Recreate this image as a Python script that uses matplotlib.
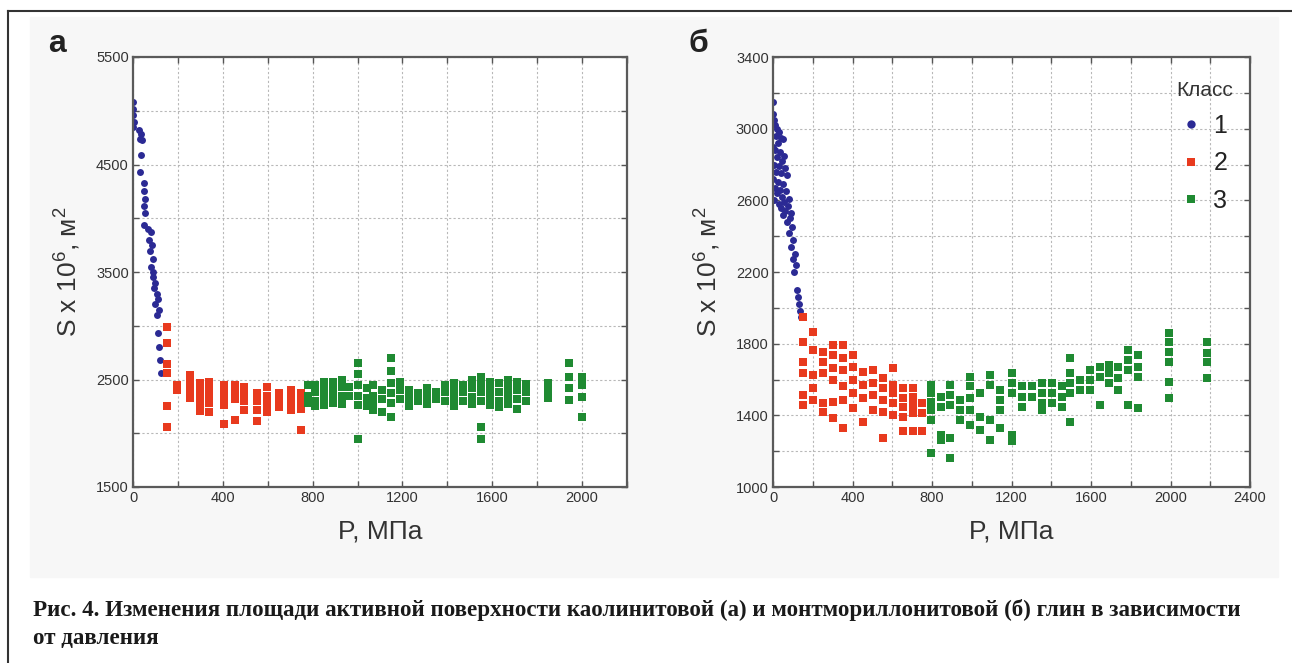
import matplotlib.pyplot as plt
from matplotlib.ticker import MultipleLocator
from matplotlib.lines import Line2D
from matplotlib.patches import Rectangle

# --- panel a (kaolinite) ---
a1_p = [0, 0, 2, 3, 0, 25, 35, 30, 40, 36, 31, 48, 50, 52, 50, 55, 50, 65, 80,
        70, 85, 75, 90, 80, 88, 90, 100, 95, 105, 110, 100, 115, 108,
        112, 118, 120, 125]
a1_s = [5080, 5020, 4960, 4900, 4850, 4820, 4780, 4740, 4730, 4590, 4430,
        4330, 4250, 4180, 4110, 4050, 3940, 3900, 3870,
        3800, 3750, 3700, 3620, 3550, 3500, 3450, 3400, 3350, 3300, 3250,
        3200, 3150, 3100, 2930, 2800, 2680, 2560]

a2_cols = [150, 197, 255, 300, 337, 404, 456, 496, 553, 596, 648, 702, 746]
a2_vals = [[2990, 2840, 2640, 2560, 2250, 2060],
           [2450, 2400],
           [2540, 2480, 2420, 2360, 2330],
           [2470, 2400, 2330, 2260, 2210],
           [2480, 2420, 2350, 2280, 2200],
           [2450, 2390, 2320, 2260, 2090],
           [2450, 2380, 2320, 2125],
           [2430, 2360, 2300, 2220],
           [2370, 2300, 2220, 2110],
           [2430, 2350, 2270, 2200],
           [2370, 2300, 2240],
           [2400, 2330, 2260, 2220],
           [2370, 2300, 2230, 2030]]

a3_cols = [780, 810, 850, 890, 930, 960, 1000, 1040, 1070, 1110, 1150, 1190,
           1230, 1270, 1310, 1350, 1390, 1430, 1470, 1510, 1550, 1590, 1630,
           1670, 1710, 1750, 1850, 1940, 2000]
a3_vals = [[2450, 2350, 2280],
           [2450, 2380, 2300, 2250],
           [2480, 2400, 2330, 2260],
           [2480, 2420, 2350, 2280],
           [2500, 2430, 2350, 2270],
           [2430, 2350],
           [2650, 2550, 2450, 2350, 2260, 1950],
           [2420, 2330, 2250],
           [2450, 2350, 2280, 2220],
           [2400, 2320, 2200],
           [2700, 2580, 2470, 2370, 2280, 2150],
           [2480, 2400, 2320],
           [2400, 2330, 2250],
           [2370, 2300],
           [2420, 2350, 2270],
           [2380, 2320],
           [2450, 2380, 2300],
           [2470, 2400, 2330, 2250],
           [2450, 2380, 2300],
           [2500, 2420, 2340, 2270],
           [2520, 2450, 2380, 2300, 2060, 1950],
           [2480, 2400, 2330, 2260],
           [2470, 2380, 2300, 2240],
           [2500, 2420, 2350, 2270],
           [2480, 2400, 2320, 2230],
           [2460, 2380, 2300],
           [2470, 2400, 2330],
           [2650, 2520, 2420, 2310],
           [2520, 2450, 2340, 2150]]

# --- panel b (montmorillonite) ---
b1_p = [0, 0, 5, 10, 20, 30, 15, 40, 50, 25, 0, 10, 35, 55, 20, 45, 5, 30,
        60, 15, 40, 70, 0, 25, 50, 10, 35, 65, 20, 45, 80, 5, 55, 30, 75, 40,
        60, 90, 50, 85, 70, 95, 80, 100, 90, 110, 100, 115, 105, 120, 125,
        130, 135, 140]
b1_s = [3150, 3080, 3050, 3020, 3000, 2980, 2960, 2950, 2940, 2920, 2900,
        2880, 2870, 2850, 2840, 2820, 2800, 2790, 2780, 2760, 2750, 2740,
        2720, 2700, 2690, 2670, 2660, 2650, 2640, 2620, 2610, 2600, 2590,
        2580, 2570, 2560, 2540, 2530, 2520, 2500, 2480, 2450, 2420, 2380,
        2340, 2300, 2270, 2240, 2200, 2100, 2060, 2020, 1980, 1950]

b2_cols = [152, 202, 252, 302, 352, 402, 452, 502, 552, 602, 652, 702, 752]
b2_vals = [[1947, 1812, 1700, 1635, 1514, 1458],
           [1867, 1765, 1626, 1551, 1486],
           [1756, 1700, 1635, 1468, 1421],
           [1793, 1737, 1663, 1598, 1477, 1384],
           [1793, 1719, 1654, 1561, 1486, 1328],
           [1737, 1672, 1598, 1523, 1440],
           [1644, 1570, 1495, 1365],
           [1654, 1579, 1514, 1430],
           [1607, 1551, 1486, 1421, 1272],
           [1663, 1570, 1523, 1468, 1402],
           [1551, 1495, 1449, 1393, 1310],
           [1551, 1505, 1458, 1412, 1310],
           [1468, 1412, 1310]]

b3_cols = [793, 843, 893, 943, 993, 1043, 1093, 1143, 1202, 1252, 1302,
           1352, 1402, 1452, 1493, 1543, 1593, 1643, 1693, 1735, 1785, 1835,
           1993, 2185]
b3_vals = [[1570, 1523, 1477, 1430, 1375, 1189],
           [1505, 1449, 1291, 1263],
           [1570, 1514, 1458, 1272, 1161],
           [1486, 1430, 1375],
           [1616, 1561, 1495, 1430, 1347],
           [1523, 1393, 1319],
           [1626, 1570, 1375, 1263],
           [1542, 1486, 1430, 1328],
           [1635, 1579, 1523, 1291, 1254],
           [1561, 1505, 1449],
           [1561, 1505],
           [1579, 1523, 1468, 1430],
           [1579, 1523, 1468],
           [1561, 1505, 1449],
           [1719, 1635, 1579, 1523, 1365],
           [1598, 1542],
           [1654, 1598, 1542],
           [1672, 1616, 1458],
           [1681, 1635, 1579],
           [1672, 1607, 1542],
           [1765, 1709, 1654, 1458],
           [1737, 1672, 1616, 1440],
           [1860, 1810, 1754, 1698, 1587, 1497],
           [1810, 1748, 1698, 1609]]

a_yticks = [1500, 2500, 3500, 4500, 5500]
b_yticks = [1000, 1400, 1800, 2200, 2600, 3000, 3400]

BLUE = '#2b2a94'
RED = '#e83a1e'
GREEN = '#1f8a32'
W, H = 1292, 663


def flatten(cols, vals):
    xs, ys = [], []
    for c, v in zip(cols, vals):
        xs += [c] * len(v)
        ys += v
    return xs, ys


def style_axes(ax, xmax, yticks, ystep):
    ax.set_xlim(0, xmax)
    ax.set_ylim(yticks[0], yticks[-1])
    ax.xaxis.set_major_locator(MultipleLocator(400))
    ax.xaxis.set_minor_locator(MultipleLocator(200))
    ax.set_yticks(yticks)
    ax.yaxis.set_minor_locator(MultipleLocator(ystep))
    ax.grid(True, which='both', color='#b8b8b8', lw=0.8, ls=(0, (2, 2)))
    ax.set_axisbelow(True)
    ax.tick_params(which='both', direction='in', top=True, right=True,
                   length=4, width=1, color='#555555', labelsize=10.5,
                   labelcolor='#333333', pad=3)
    for sp in ax.spines.values():
        sp.set_color('#5a5a5a')
        sp.set_linewidth(1.6)
    ax.set_xlabel('P, МПа', fontsize=19, color='#333333', labelpad=10)
    ax.set_ylabel(r'S x 10$^6$, м$^2$', fontsize=19, color='#333333',
                  labelpad=10)


plt.rcParams['font.family'] = ['Liberation Sans', 'DejaVu Sans']
plt.rcParams['mathtext.fontset'] = 'custom'
plt.rcParams['mathtext.rm'] = 'Liberation Sans'

fig = plt.figure(figsize=(W / 100, H / 100), dpi=100)
fig.patches.append(Rectangle((30 / W, 1 - 577 / H), 1248 / W, 560 / H,
                             transform=fig.transFigure, color='#f7f7f7',
                             zorder=-10))

ax1 = fig.add_axes([133 / W, 1 - 487 / H, 494 / W, 430 / H])
ax2 = fig.add_axes([773 / W, 1 - 487 / H, 477 / W, 430 / H])

ms_c, ms_s = 5, 5.5
ax1.plot(a1_p, a1_s, 'o', color=BLUE, ms=ms_c, mew=0)
x, y = flatten(a2_cols, a2_vals)
ax1.plot(x, y, 's', color=RED, ms=ms_s, mew=0)
x, y = flatten(a3_cols, a3_vals)
ax1.plot(x, y, 's', color=GREEN, ms=ms_s, mew=0)
style_axes(ax1, 2200, a_yticks, 500)

ax2.plot(b1_p, b1_s, 'o', color=BLUE, ms=ms_c, mew=0)
x, y = flatten(b2_cols, b2_vals)
ax2.plot(x, y, 's', color=RED, ms=ms_s, mew=0)
x, y = flatten(b3_cols, b3_vals)
ax2.plot(x, y, 's', color=GREEN, ms=ms_s, mew=0)
style_axes(ax2, 2400, b_yticks, 200)

handles = [Line2D([], [], ls='none', marker='o', color=BLUE, ms=6, mew=0),
           Line2D([], [], ls='none', marker='s', color=RED, ms=6, mew=0),
           Line2D([], [], ls='none', marker='s', color=GREEN, ms=6, mew=0)]
leg = ax2.legend(handles, ['1', '2', '3'], title='Класс', loc='upper right',
                 bbox_to_anchor=(1.0, 0.985), frameon=False, fontsize=18,
                 title_fontsize=15, handlelength=0.8, handletextpad=0.5,
                 labelspacing=0.55, borderpad=0.2)
leg.get_title().set_color('#333333')
for t in leg.get_texts():
    t.set_color('#222222')

fig.text(48 / W, 1 - 44 / H, 'а', fontsize=23, fontweight='bold',
         color='#222222', va='center')
fig.text(688 / W, 1 - 44 / H, 'б', fontsize=23, fontweight='bold',
         color='#222222', va='center')

cap = dict(fontsize=16.6, fontweight='bold', family='Liberation Serif',
           color='#1a1a1a', va='center')
fig.text(33 / W, 1 - 610 / H,
         'Рис. 4. Изменения площади активной поверхности каолинитовой (а) '
         'и монтмориллонитовой (б) глин в зависимости', **cap)
fig.text(33 / W, 1 - 638 / H, 'от давления', **cap)

fig.add_artist(Line2D([8 / W, 1], [1 - 11 / H, 1 - 11 / H],
                      transform=fig.transFigure, color='#333333', lw=1.5))
fig.add_artist(Line2D([8 / W, 8 / W], [0, 1 - 11 / H],
                      transform=fig.transFigure, color='#333333', lw=1.5))

fig.savefig('out.png', dpi=100)
